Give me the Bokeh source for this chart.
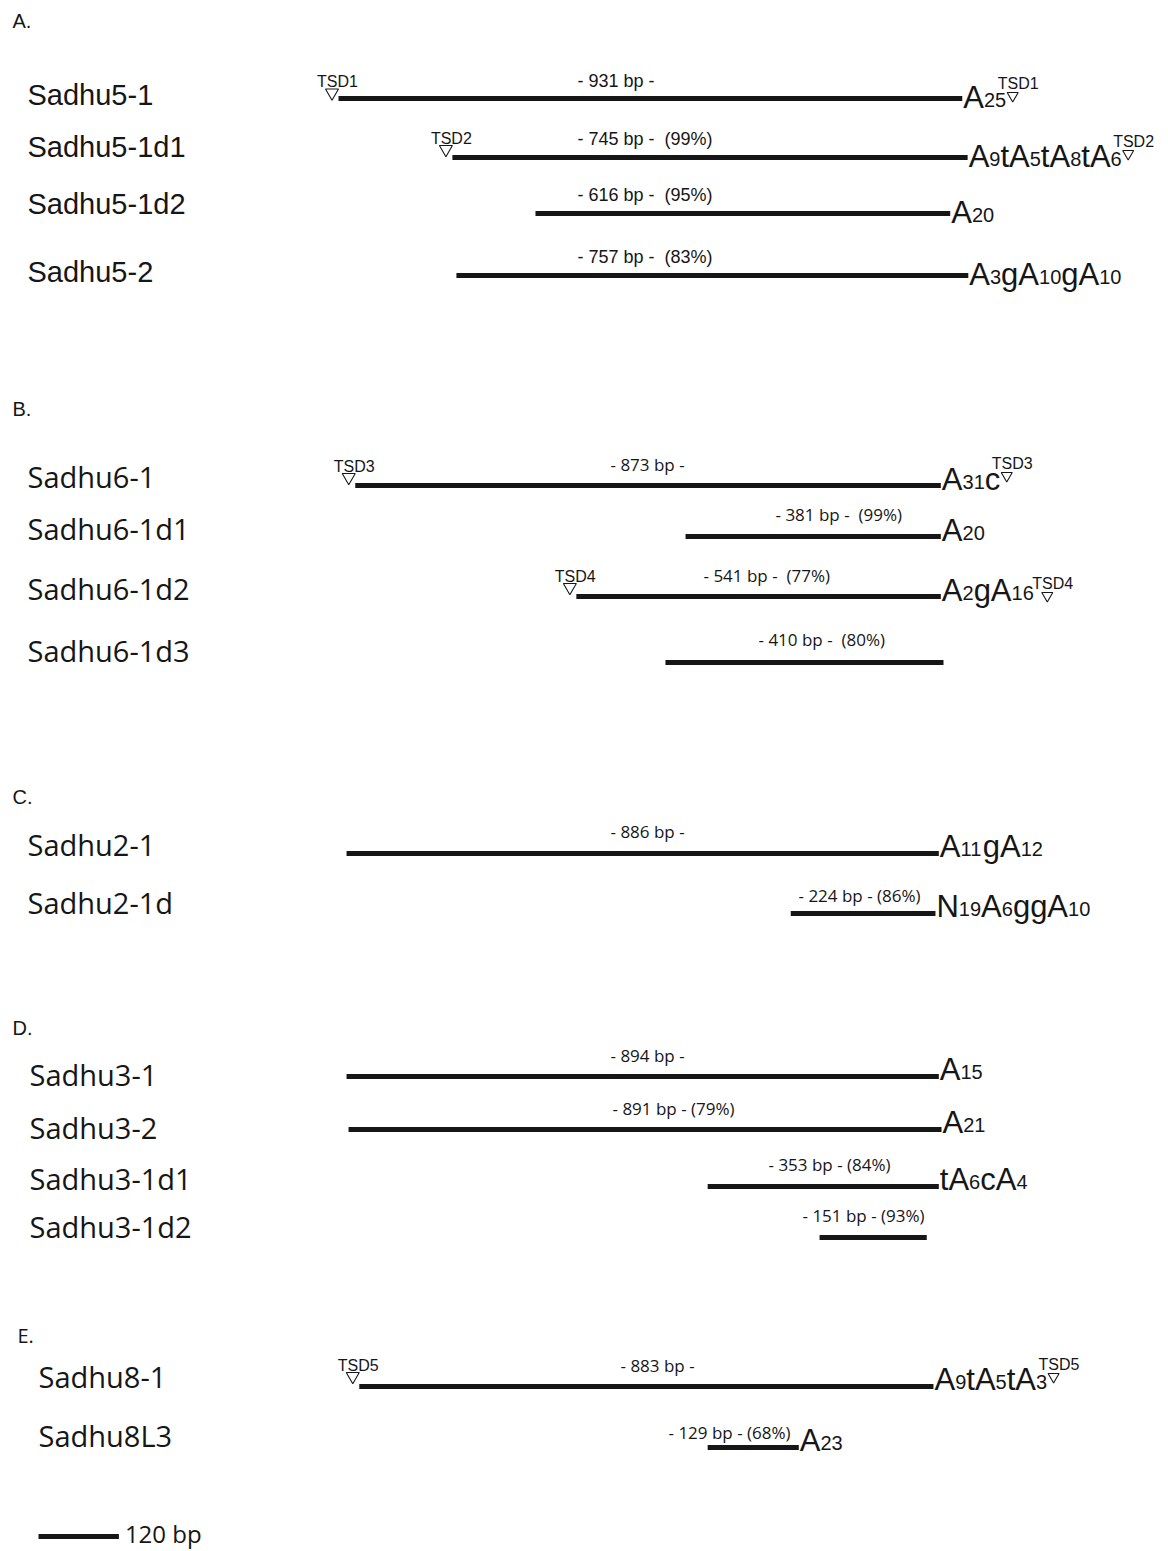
from bokeh.plotting import figure
from bokeh.models import Range1d, ColumnDataSource
from bokeh.core.properties import value
from bokeh.embed import file_html
from bokeh.resources import INLINE

# ---------------- data (bp coordinates) ----------------
panel_letters = ["A.", "B.", "C.", "D.", "E."]

a_names = ["Sadhu5-1", "Sadhu5-1d1", "Sadhu5-1d2", "Sadhu5-2"]
a_len_bp = [931, 745, 616, 757]
a_ident = [None, 99, 95, 83]
a_start = [0, 170, 294, 176]
a_end = [931, 939, 913, 940]
a_tail = ["A25", "A9tA5tA8tA6", "A20", "A3gA10gA10"]
a_tsd = ["TSD1", "TSD2", None, None]

b_names = ["Sadhu6-1", "Sadhu6-1d1", "Sadhu6-1d2", "Sadhu6-1d3"]
b_len_bp = [873, 381, 541, 410]
b_ident = [None, 99, 77, 80]
b_start = [25, 518, 355, 488]
b_end = [899, 899, 899, 903]
b_tail = ["A31c", "A20", "A2gA16", ""]
b_tsd = ["TSD3", None, "TSD4", None]

c_names = ["Sadhu2-1", "Sadhu2-1d"]
c_len_bp = [886, 224]
c_ident = [None, 86]
c_start = [12, 675]
c_end = [896, 891]
c_tail = ["A11gA12", "N19A6ggA10"]
c_tsd = [None, None]

d_names = ["Sadhu3-1", "Sadhu3-2", "Sadhu3-1d1", "Sadhu3-1d2"]
d_len_bp = [894, 891, 353, 151]
d_ident = [None, 79, 84, 93]
d_start = [12, 15, 551, 718]
d_end = [896, 900, 896, 878]
d_tail = ["A15", "A21", "tA6cA4", ""]
d_tsd = [None, None, None, None]

e_names = ["Sadhu8-1", "Sadhu8L3"]
e_len_bp = [883, 129]
e_ident = [None, 68]
e_start = [31, 551]
e_end = [888, 687]
e_tail = ["A9tA5tA3", "A23"]
e_tsd = ["TSD5", None]

scale_bar_bp = 120
scale_bar_label = "120 bp"

# ---------------- layout ----------------
W, H = 1168, 1551
PX_PER_BP = 0.67
ORIGIN_PAGE_X = 338
BASELINE_K = 0.40  # renderer places the alphabetic baseline this many em lower


def px2bp(page_x):
    return (page_x - ORIGIN_PAGE_X) / PX_PER_BP


WIDE = " \u00a0"  # double space kept visible in SVG

panels = [
    dict(letter=panel_letters[0], names=a_names, length=a_len_bp, ident=a_ident, start=a_start,
         end=a_end, tail=a_tail, tsd=a_tsd, sep=WIDE, font="Liberation Sans", lab_font="Liberation Sans",
         lab_size=18, letter_font="Liberation Sans", letter_xy=(12, 28), name_x=27,
         line_y=[98, 157, 213, 275], name_y=[106, 158, 215, 283], lab_x=[577, 577, 577, 577],
         lab_y=[88, 146, 202, 264], tsdL=[-9.5, -12, 0, 0], tsdR=[-6, -7, 0, 0], tail_dy=11,
         tsdR_dx=[0, 0, 0, 0]),
    dict(letter=panel_letters[1], names=b_names, length=b_len_bp, ident=b_ident, start=b_start,
         end=b_end, tail=b_tail, tsd=b_tsd, sep=WIDE, font="Open Sans", lab_font="Open Sans",
         lab_size=17, letter_font="Liberation Sans", letter_xy=(12, 416), name_x=27,
         line_y=[485, 536, 596, 662], name_y=[488, 540, 600, 662], lab_x=[610, 775, 703, 758],
         lab_y=[471, 521, 582, 646], tsdL=[-12, 0, -13, 0], tsdR=[-13, 0, -4, 0], tail_dy=6,
         tsdR_dx=[0, 0, 7, 0]),
    dict(letter=panel_letters[2], names=c_names, length=c_len_bp, ident=c_ident, start=c_start,
         end=c_end, tail=c_tail, tsd=c_tsd, sep=" ", font="Open Sans", lab_font="Open Sans",
         lab_size=17, letter_font="Liberation Sans", letter_xy=(12, 804), name_x=27,
         line_y=[853, 913], name_y=[856, 914], lab_x=[610, 798],
         lab_y=[838, 902], tsdL=[0, 0], tsdR=[0, 0], tail_dy=5, tsdR_dx=[0, 0]),
    dict(letter=panel_letters[3], names=d_names, length=d_len_bp, ident=d_ident, start=d_start,
         end=d_end, tail=d_tail, tsd=d_tsd, sep=" ", font="Open Sans", lab_font="Open Sans",
         lab_size=17, letter_font="Liberation Sans", letter_xy=(12, 1035), name_x=29,
         line_y=[1076, 1129, 1186, 1237], name_y=[1086, 1139, 1190, 1238], lab_x=[610, 612, 768, 802],
         lab_y=[1062, 1115, 1171, 1222], tsdL=[0, 0, 0, 0], tsdR=[0, 0, 0, 0], tail_dy=5,
         tsdR_dx=[0, 0, 0, 0]),
    dict(letter=panel_letters[4], names=e_names, length=e_len_bp, ident=e_ident, start=e_start,
         end=e_end, tail=e_tail, tsd=e_tsd, sep=" ", font="Open Sans", lab_font="Open Sans",
         lab_size=17, letter_font="Open Sans", letter_xy=(17, 1343), name_x=38,
         line_y=[1386, 1447], name_y=[1388, 1447], lab_x=[620, 668],
         lab_y=[1372, 1439], tsdL=[-14, 0], tsdR=[-13, 0], tail_dy=5, tsdR_dx=[0, 0]),
]

BIG, SMALL = 31, 20
SMALL_RAISE = 1.5
GLYPH_W = {"A": 0.667, "t": 0.278, "g": 0.556, "c": 0.5, "N": 0.722}


def tail_runs(tail):
    runs = []
    x = 0.0
    i = 0
    while i < len(tail):
        ch = tail[i]
        if ch.isdigit():
            j = i
            while j < len(tail) and tail[j].isdigit():
                j += 1
            runs.append((tail[i:j], x, True))
            x += 0.556 * SMALL * (j - i)
            i = j
        else:
            runs.append((ch, x, False))
            x += GLYPH_W.get(ch, 0.6) * BIG
            i += 1
    return runs, x


p = figure(width=W, height=H, output_backend="svg", toolbar_location=None,
           x_range=Range1d(px2bp(0), px2bp(W)), y_range=Range1d(H, 0),
           min_border=0, min_border_left=0, min_border_right=0, min_border_top=0, min_border_bottom=0)
p.axis.visible = False
p.grid.visible = False
p.outline_line_color = None
p.background_fill_color = "white"
p.border_fill_color = "white"

INK = "#161616"

seg = dict(x0=[], x1=[], y=[])
texts = {}  # (font, size) -> dict(x, y, text, xo)


def add_text(font, size, x, y, text, xo=0):
    d = texts.setdefault((font, size), dict(x=[], y=[], text=[], xo=[]))
    d["x"].append(x)
    d["y"].append(y - BASELINE_K * size)
    d["text"].append(text)
    d["xo"].append(xo)


triL = dict(x=[], y=[])
triR = dict(x=[], y=[])

for pn in panels:
    lx, ly = pn["letter_xy"]
    add_text(pn["letter_font"], 20, px2bp(lx), ly, pn["letter"])
    for i, name in enumerate(pn["names"]):
        yl = pn["line_y"][i]
        add_text(pn["font"], 29, px2bp(pn["name_x"]), pn["name_y"][i], name)
        seg["x0"].append(pn["start"][i])
        seg["x1"].append(pn["end"][i])
        seg["y"].append(yl)
        lab = "- %d bp -" % pn["length"][i]
        if pn["ident"][i] is not None:
            lab += pn["sep"] + "(%d%%)" % pn["ident"][i]
        add_text(pn["lab_font"], pn["lab_size"], px2bp(pn["lab_x"][i]), pn["lab_y"][i], lab)
        runs, tw = tail_runs(pn["tail"][i])
        for t, xo, small in runs:
            add_text("Liberation Sans", SMALL if small else BIG, pn["end"][i],
                     yl + pn["tail_dy"] - (SMALL_RAISE if small else 0), t, 1 + xo)
        tsd = pn["tsd"][i]
        if tsd:
            # left marker
            base_y = yl + pn["tsdL"][i]
            cx = pn["start"][i] - 6.5 / PX_PER_BP
            triL["x"].append(cx)
            triL["y"].append(base_y + 3.8)
            add_text("Liberation Sans", 16, cx, base_y - 1, tsd, -15)
            # right marker
            base_y = yl + pn["tsdR"][i]
            cx = pn["end"][i] + (1 + tw + 6.5 + pn["tsdR_dx"][i]) / PX_PER_BP
            triR["x"].append(cx)
            triR["y"].append(base_y + 3.2)
            add_text("Liberation Sans", 16, cx, base_y - 3, tsd, -15)

# scale bar
sb_x0 = px2bp(38)
seg["x0"].append(sb_x0)
seg["x1"].append(sb_x0 + scale_bar_bp)
seg["y"].append(1536)
add_text("Open Sans", 24, sb_x0 + scale_bar_bp, 1543, scale_bar_label, 6)

p.segment(x0="x0", y0="y", x1="x1", y1="y", source=ColumnDataSource(seg),
          line_width=5, line_color=INK, line_cap="butt")

p.scatter(x="x", y="y", source=ColumnDataSource(triL), marker="inverted_triangle", size=13,
          fill_color="white", line_color=INK, line_width=1.1)
p.scatter(x="x", y="y", source=ColumnDataSource(triR), marker="inverted_triangle", size=11,
          fill_color="white", line_color=INK, line_width=1.1)

for (font, size), d in texts.items():
    p.text(x="x", y="y", text="text", x_offset="xo", source=ColumnDataSource(d),
           text_font=value(font), text_font_size="%dpx" % size, text_color=INK,
           text_align="left", text_baseline="alphabetic")

open("out.html", "w").write(file_html(p, INLINE))
